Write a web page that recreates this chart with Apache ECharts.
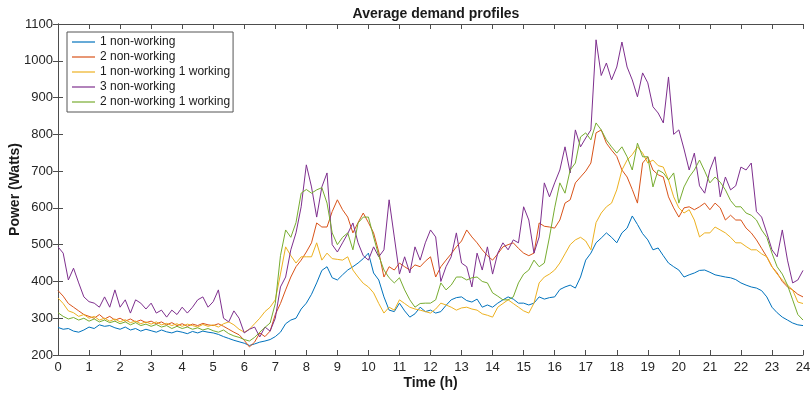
<!DOCTYPE html>
<html>
<head>
<meta charset="utf-8">
<script src="https://cdn.jsdelivr.net/npm/echarts@6/dist/echarts.min.js"></script>
<style>
  html, body { margin: 0; padding: 0; background: #fff; }
  #chart { width: 810px; height: 398px; }
</style>
</head>
<body>
<div id="chart"></div>
<script>
// values, one every 10 minutes from 0h to 24h
const seriesNames = ['1 non-working', '2 non-working', '1 non-working 1 working', '3 non-working', '2 non-working 1 working'];
const seriesColors = ['#0072BD', '#D95319', '#EDB120', '#7E2F8E', '#77AC30'];
const stepsPerHour = 6;

const oneNonWorking = [
  275, 270, 272, 265, 262, 268,
  276, 272, 282, 278, 280, 274,
  270, 276, 268, 272, 265, 270,
  266, 262, 268, 263, 260, 265,
  262, 258, 264, 260, 265, 262,
  260, 256, 250, 245, 240, 236,
  232, 226, 230, 235, 238, 242,
  250, 262, 285, 295, 300, 325,
  341, 365, 396, 430, 440, 410,
  404, 418, 431, 440, 450, 462,
  477, 423, 404, 358, 322, 318,
  341, 320, 303, 312, 330, 318,
  322, 314, 318, 335, 350, 356,
  358, 348, 344, 352, 330, 336,
  330, 341, 350, 358, 352, 341,
  341, 336, 341, 358, 352, 356,
  358, 378, 385, 390, 382, 412,
  458, 477, 505, 518, 532, 520,
  505, 532, 545, 578, 555, 530,
  513, 486, 491, 470, 450, 440,
  431, 412, 418, 423, 430, 431,
  425, 418, 415, 412, 410, 405,
  396, 390, 385, 382, 375, 358,
  330, 315, 303, 295, 287, 282,
  280
];

const twoNonWorking = [
  375, 360, 340, 330, 320, 310,
  305, 300, 310, 298, 305, 295,
  300, 292, 298, 290, 295, 288,
  292, 285, 290, 282, 288, 280,
  285, 278, 284, 280, 286, 282,
  280, 285, 278, 270, 262, 255,
  240, 222, 235, 260, 250, 265,
  310, 340, 377, 412, 440, 458,
  480, 505, 559, 548, 548, 590,
  622, 595, 575, 532, 560, 586,
  560, 532, 480, 412, 440, 431,
  450, 440, 431, 445, 440, 455,
  467, 412, 440, 458, 475, 494,
  510, 540, 521, 505, 486, 470,
  458, 475, 494, 500, 505, 490,
  477, 470, 477, 559, 550, 548,
  545, 567, 613, 622, 668, 684,
  700, 722, 804, 812, 776, 757,
  740, 703, 684, 650, 613, 722,
  739, 703, 690, 684, 630, 600,
  575, 600, 603, 595, 603, 613,
  595, 613, 600, 567, 580, 567,
  567, 545, 532, 513, 490, 467,
  440, 423, 400, 385, 377, 365,
  358
];

const oneNonOneWorking = [
  355, 340, 320, 315, 305, 310,
  300, 305, 295, 300, 292, 298,
  290, 296, 288, 292, 285, 290,
  284, 290, 282, 286, 280, 285,
  278, 284, 280, 276, 283, 278,
  282, 276, 285, 290, 282, 270,
  262, 270, 285, 300, 318, 330,
  350, 420, 494, 470, 450, 467,
  467, 467, 505, 458, 477, 462,
  460, 458, 467, 431, 412, 395,
  385, 369, 340, 314, 330, 322,
  350, 340, 330, 325, 322, 318,
  314, 325, 341, 336, 330, 322,
  328, 330, 325, 322, 312, 308,
  303, 330, 340, 350, 340, 330,
  320, 314, 341, 396, 412, 420,
  431, 450, 475, 500, 513, 520,
  510, 486, 560, 586, 603, 613,
  649, 703, 730, 745, 766, 749,
  722, 730, 715, 711, 676, 630,
  600, 586, 595, 567, 521, 532,
  532, 548, 540, 532, 520, 505,
  505, 495, 486, 486, 475, 467,
  440, 420, 404, 390, 377, 344,
  340
];

const threeNonWorking = [
  494, 477, 404, 436, 396, 358,
  345, 341, 330, 358, 330, 377,
  330, 350, 314, 350, 341, 325,
  341, 314, 322, 303, 322, 310,
  330, 314, 330, 350, 358, 330,
  345, 377, 300, 290, 320, 300,
  260, 270, 276, 249, 276, 265,
  300, 385, 412, 486, 532, 603,
  717, 657, 575, 657, 695, 500,
  480, 505, 530, 559, 505, 470,
  458, 494, 467, 486, 622, 521,
  420, 467, 423, 494, 458, 505,
  540, 521, 400, 440, 467, 532,
  450, 440, 385, 477, 431, 494,
  420, 477, 505, 486, 513, 505,
  603, 567, 477, 521, 668, 630,
  668, 703, 766, 695, 812, 766,
  790, 812, 1057, 960, 994, 948,
  983, 1051, 983, 948, 902, 967,
  940, 875, 858, 831, 956, 800,
  812, 760, 703, 749, 660, 640,
  703, 739, 630, 684, 649, 660,
  711, 703, 722, 590, 575, 532,
  486, 467, 540, 458, 396, 404,
  430
];

const twoNonOneWorking = [
  315, 305, 298, 302, 295, 300,
  292, 298, 290, 295, 288, 292,
  285, 290, 282, 288, 280, 284,
  278, 283, 276, 280, 272, 278,
  272, 276, 270, 274, 268, 272,
  266, 262, 268, 258, 252, 248,
  242, 238, 248, 262, 275, 287,
  340, 470, 540, 520, 560, 640,
  650, 640, 649, 655, 613, 532,
  500, 520, 532, 486, 559, 575,
  575, 521, 470, 431, 410, 396,
  410, 377, 350, 330, 340, 341,
  341, 350, 396, 377, 390, 412,
  412, 404, 410, 412, 400, 396,
  369, 360, 350, 350, 358, 396,
  420, 431, 458, 440, 450, 521,
  600, 668, 640, 703, 722, 793,
  804, 785, 831, 812, 785, 766,
  749, 766, 739, 703, 776, 739,
  739, 657, 703, 695, 676, 695,
  613, 657, 684, 703, 730, 700,
  668, 684, 670, 649, 620, 603,
  603, 586, 580, 567, 540, 520,
  477, 440, 420, 390, 350, 310,
  295
];

const allValues = [oneNonWorking, twoNonWorking, oneNonOneWorking, threeNonWorking, twoNonOneWorking];

const font = 'Liberation Sans, Arial, Helvetica, sans-serif';
const axisColor = '#4d4d4d';

let chart = echarts.init(document.getElementById('chart'));

function toPairs(values) {
  return values.map((v, i) => [i / stepsPerHour, v]);
}

let boxAxis = {
  axisLine: { show: true, lineStyle: { color: axisColor, width: 1 } },
  axisTick: { show: true, inside: true, length: 5, lineStyle: { color: axisColor } },
  splitLine: { show: false },
};

let option = {
  animation: false,
  backgroundColor: '#fff',
  title: {
    text: 'Average demand profiles',
    left: 431,
    top: 2,
    textAlign: 'center',
    textStyle: { fontFamily: font, fontSize: 14, fontWeight: 'bold', color: '#1a1a1a' },
  },
  legend: {
    orient: 'vertical',
    left: 67,
    top: 32,
    padding: [3, 3, 3, 5],
    icon: 'rect',
    itemWidth: 23,
    itemHeight: 1.2,
    itemGap: 1,
    backgroundColor: '#fff',
    borderColor: '#555',
    borderWidth: 1,
    borderRadius: 0,
    textStyle: { fontFamily: font, fontSize: 12, color: '#1a1a1a', lineHeight: 14 },
    data: seriesNames,
  },
  grid: { left: 58, right: 7, top: 24, bottom: 43, outerBoundsMode: 'none' },
  xAxis: [
    {
      ...boxAxis,
      type: 'value',
      min: 0,
      max: 24,
      interval: 1,
      name: 'Time (h)',
      nameLocation: 'middle',
      nameGap: 21,
      nameMoveOverlap: false,
      nameTextStyle: { fontFamily: font, fontSize: 14, fontWeight: 'bold', color: '#1a1a1a' },
      axisLabel: { fontFamily: font, fontSize: 13, color: '#262626', margin: 6 },
    },
    {
      ...boxAxis,
      type: 'value',
      position: 'top',
      min: 0,
      max: 24,
      interval: 1,
      axisLabel: { show: false },
    },
  ],
  yAxis: [
    {
      ...boxAxis,
      type: 'value',
      min: 200,
      max: 1100,
      interval: 100,
      name: 'Power (Watts)',
      nameLocation: 'middle',
      nameGap: 36,
      nameMoveOverlap: false,
      nameTextStyle: { fontFamily: font, fontSize: 14, fontWeight: 'bold', color: '#1a1a1a' },
      axisLabel: {
        fontFamily: font,
        fontSize: 13,
        color: '#262626',
        margin: 5,
        formatter: (v) => String(v),
      },
    },
    {
      ...boxAxis,
      type: 'value',
      position: 'right',
      min: 200,
      max: 1100,
      interval: 100,
      axisLabel: { show: false },
    },
  ],
  series: allValues.map((values, k) => ({
    name: seriesNames[k],
    type: 'line',
    xAxisIndex: 0,
    yAxisIndex: 0,
    data: toPairs(values),
    symbol: 'none',
    color: seriesColors[k],
    lineStyle: { width: 1, color: seriesColors[k] },
  })),
};

chart.setOption(option);
</script>
</body>
</html>
